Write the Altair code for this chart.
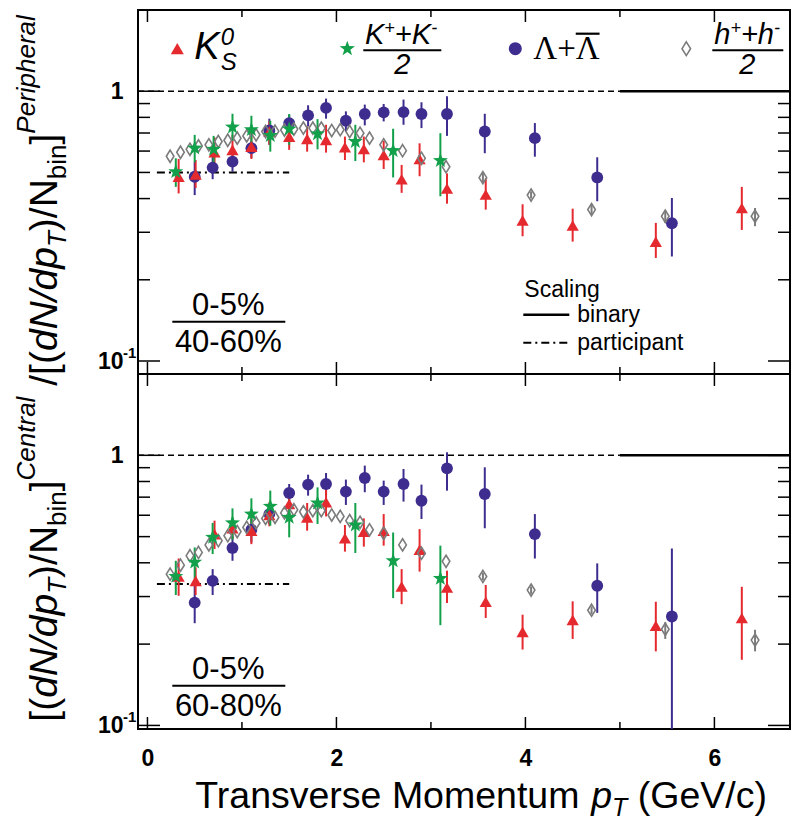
import altair as alt
import pandas as pd

# ---------------- data ----------------
# Upper panel: 0-5% / 40-60%
top_k0s_x = [0.33, 0.51, 0.71, 0.90, 1.10, 1.29, 1.50, 1.69, 1.89, 2.09, 2.29, 2.50, 2.69, 2.88, 3.17, 3.58, 3.97, 4.50, 5.38, 6.29]
top_k0s_y = [0.482, 0.491, 0.594, 0.606, 0.623, 0.709, 0.679, 0.666, 0.660, 0.620, 0.611, 0.580, 0.472, 0.561, 0.436, 0.414, 0.332, 0.318, 0.277, 0.369]
top_k0s_lo = [0.418, 0.438, 0.533, 0.548, 0.561, 0.633, 0.606, 0.597, 0.592, 0.556, 0.545, 0.515, 0.420, 0.484, 0.383, 0.364, 0.290, 0.277, 0.241, 0.306]
top_k0s_hi = [0.561, 0.556, 0.674, 0.689, 0.713, 0.773, 0.751, 0.740, 0.751, 0.679, 0.679, 0.655, 0.533, 0.641, 0.496, 0.475, 0.381, 0.367, 0.325, 0.442]

top_kch_x = [0.30, 0.50, 0.70, 0.90, 1.10, 1.30, 1.50, 1.80, 2.20, 2.60, 3.10]
top_kch_y = [0.503, 0.615, 0.609, 0.736, 0.720, 0.685, 0.724, 0.695, 0.651, 0.602, 0.553]
top_kch_lo = [0.442, 0.545, 0.540, 0.655, 0.606, 0.597, 0.633, 0.609, 0.551, 0.479, 0.408]
top_kch_hi = [0.564, 0.689, 0.683, 0.825, 0.811, 0.777, 0.823, 0.788, 0.751, 0.726, 0.699]

top_lam_x = [0.50, 0.69, 0.90, 1.10, 1.29, 1.50, 1.70, 1.89, 2.10, 2.30, 2.50, 2.71, 2.90, 3.17, 3.57, 4.10, 4.76, 5.55]
top_lam_y = [0.482, 0.521, 0.548, 0.615, 0.715, 0.762, 0.814, 0.867, 0.777, 0.823, 0.835, 0.837, 0.823, 0.823, 0.709, 0.670, 0.479, 0.324]
top_lam_lo = [0.412, 0.472, 0.503, 0.567, 0.633, 0.709, 0.740, 0.791, 0.709, 0.747, 0.773, 0.751, 0.730, 0.683, 0.589, 0.572, 0.391, 0.244]
top_lam_hi = [0.548, 0.572, 0.589, 0.651, 0.791, 0.818, 0.887, 0.939, 0.842, 0.892, 0.897, 0.931, 0.910, 0.958, 0.825, 0.762, 0.569, 0.402]

top_h_x = [0.24, 0.35, 0.45, 0.54, 0.65, 0.75, 0.85, 0.95, 1.05, 1.15, 1.25, 1.35, 1.45, 1.55, 1.65, 1.75, 1.84, 1.95, 2.04, 2.14, 2.25, 2.35, 2.50, 2.70, 2.90, 3.16, 3.55, 4.06, 4.70, 5.48, 6.43]
top_h_y = [0.574, 0.594, 0.609, 0.627, 0.633, 0.651, 0.658, 0.670, 0.683, 0.689, 0.709, 0.711, 0.718, 0.724, 0.730, 0.730, 0.730, 0.715, 0.720, 0.709, 0.699, 0.670, 0.633, 0.602, 0.564, 0.525, 0.478, 0.412, 0.364, 0.344, 0.344]
top_herr_x = [3.55, 4.06, 4.70, 5.48, 6.43]
top_herr_lo = [0.460, 0.400, 0.350, 0.325, 0.316]
top_herr_hi = [0.500, 0.425, 0.380, 0.362, 0.369]

# Lower panel: 0-5% / 60-80%
bot_k0s_x = top_k0s_x
bot_k0s_y = [0.356, 0.343, 0.511, 0.537, 0.526, 0.601, 0.660, 0.589, 0.670, 0.493, 0.522, 0.526, 0.327, 0.447, 0.324, 0.287, 0.222, 0.246, 0.234, 0.250]
bot_k0s_lo = [0.302, 0.304, 0.450, 0.490, 0.469, 0.546, 0.598, 0.526, 0.594, 0.440, 0.459, 0.463, 0.281, 0.371, 0.284, 0.250, 0.191, 0.209, 0.188, 0.175]
bot_k0s_hi = [0.415, 0.385, 0.573, 0.589, 0.589, 0.670, 0.746, 0.666, 0.755, 0.552, 0.584, 0.606, 0.379, 0.533, 0.374, 0.331, 0.257, 0.288, 0.287, 0.326]

bot_kch_x = [0.30, 0.50, 0.69, 0.90, 1.10, 1.30, 1.50, 1.80, 2.20, 2.60, 3.10]
bot_kch_y = [0.356, 0.402, 0.497, 0.562, 0.606, 0.647, 0.589, 0.666, 0.552, 0.407, 0.350]
bot_kch_lo = [0.304, 0.348, 0.431, 0.487, 0.526, 0.549, 0.497, 0.557, 0.435, 0.296, 0.235]
bot_kch_hi = [0.407, 0.456, 0.562, 0.636, 0.693, 0.740, 0.685, 0.761, 0.666, 0.518, 0.463]

bot_lam_x = top_lam_x
bot_lam_y = [0.285, 0.343, 0.454, 0.530, 0.606, 0.725, 0.779, 0.783, 0.734, 0.824, 0.734, 0.783, 0.679, 0.895, 0.719, 0.511, 0.329, 0.253]
bot_lam_lo = [0.239, 0.304, 0.407, 0.476, 0.557, 0.651, 0.709, 0.709, 0.655, 0.730, 0.655, 0.674, 0.581, 0.740, 0.537, 0.415, 0.261, 0.050]
bot_lam_hi = [0.331, 0.379, 0.504, 0.581, 0.660, 0.783, 0.848, 0.860, 0.813, 0.916, 0.806, 0.890, 0.779, 1.026, 0.903, 0.606, 0.398, 0.452]

bot_h_x = top_h_x
bot_h_y = [0.363, 0.392, 0.425, 0.437, 0.466, 0.483, 0.504, 0.522, 0.541, 0.562, 0.584, 0.589, 0.612, 0.629, 0.618, 0.624, 0.624, 0.601, 0.594, 0.573, 0.565, 0.530, 0.514, 0.466, 0.434, 0.405, 0.356, 0.317, 0.267, 0.227, 0.207]
bot_herr_x = [3.55, 4.06, 4.70, 5.48, 6.43]
bot_herr_lo = [0.345, 0.307, 0.258, 0.209, 0.188]
bot_herr_hi = [0.368, 0.327, 0.276, 0.241, 0.226]

# scaling reference lines
binary_level = 1.0
binary_dashed_range = [-0.1, 5.0]
binary_solid_range = [5.0, 6.8]
participant_range = [0.1, 1.5]
top_participant = 0.50
bot_participant = 0.334

x_major_ticks = [0, 2, 4, 6]
x_minor_ticks = [1, 3, 5]
y_major_ticks = [0.1, 1.0]
y_minor_ticks = [0.2, 0.3, 0.4, 0.5, 0.6, 0.7, 0.8, 0.9]

# ---------------- style ----------------
X_DOMAIN = [-0.1, 6.8]
TOP_YDOM = [0.0895, 2.0]
BOT_YDOM = [0.097, 2.0]
W = 652
H_TOP = 364
H_BOT = 355
RED = "#e52a2f"
GREEN = "#13a04a"
PURPLE = "#3e2d8f"
GRAY = "#7b7b7b"
FONT = "Liberation Sans"
SERIF = "Liberation Serif"
STAR = "M0,-1L0.235,-0.324L0.951,-0.309L0.38,0.124L0.588,0.809L0,0.4L-0.588,0.809L-0.38,0.124L-0.951,-0.309L-0.235,-0.324Z"
DIAMOND = "M0,-1L0.62,0L0,1L-0.62,0Z"

AFM = {' ': 278, '(': 333, ')': 333, '[': 278, ']': 278, '/': 278, '+': 584, '-': 333, '%': 889,
       'a': 556, 'b': 556, 'c': 500, 'd': 556, 'e': 556, 'g': 556, 'h': 556, 'i': 222, 'l': 222,
       'm': 833, 'n': 556, 'o': 556, 'p': 556, 'r': 333, 's': 500, 't': 278, 'u': 556, 'v': 500,
       'C': 722, 'G': 778, 'K': 667, 'M': 833, 'N': 722, 'P': 667, 'S': 667, 'T': 611, 'V': 667}


def tw(s, size):
    return sum(AFM.get(c, 556) for c in s) * size / 1000.0


one = pd.DataFrame({"a": [0]})


def txt(text, x, y, size, style="normal", weight="normal", angle=0, align="left", font=FONT, baseline="alphabetic"):
    return alt.Chart(one).mark_text(
        text=text, font=font, fontSize=size, fontStyle=style, fontWeight=weight,
        angle=angle, align=align, baseline=baseline, color="black"
    ).encode(x=alt.value(x), y=alt.value(y))


def hrule(x1, x2, y, width=2, dash=None):
    kw = dict(color="black", strokeWidth=width)
    if dash:
        kw["strokeDash"] = dash
    return alt.Chart(one).mark_rule(**kw).encode(x=alt.value(x1), x2=alt.value(x2), y=alt.value(y))


def sym(x, y, shape, color, size, filled=True):
    kw = dict(shape=shape, size=size, opacity=1)
    if filled:
        kw.update(filled=True, fill=color, strokeWidth=0)
    else:
        kw.update(filled=False, stroke=color, strokeWidth=1.6)
    return alt.Chart(one).mark_point(**kw).encode(x=alt.value(x), y=alt.value(y))


def panel(d, ydom, height, part_level, frac_bottom, is_top):
    xs = alt.Scale(domain=X_DOMAIN, nice=False, zero=False)
    ys = alt.Scale(type="log", domain=ydom, nice=False)
    if is_top:
        xaxis = None
    else:
        xaxis = alt.Axis(values=x_major_ticks, format="d", labelFont=FONT, labelFontWeight="bold",
                         labelFontSize=23, labelPadding=18, ticks=False, tickSize=0, domain=False,
                         grid=False, title=None, labelColor="black")
    yaxis = alt.Axis(values=y_major_ticks, labelExpr="datum.value > 0.5 ? '1' : '10'", labelFont=FONT,
                     labelFontWeight="bold", labelFontSize=23, labelPadding=15, ticks=False, tickSize=0,
                     domain=False, grid=False, title=None, labelColor="black", labelBaseline="middle")

    def X(f):
        return alt.X(f, type="quantitative", scale=xs, axis=xaxis)

    def Y(f):
        return alt.Y(f, type="quantitative", scale=ys, axis=yaxis)

    layers = []
    # scaling lines
    ref = pd.DataFrame({"x": [binary_dashed_range[0]], "x2": [binary_dashed_range[1]], "y": [binary_level]})
    layers.append(alt.Chart(ref).mark_rule(color="black", strokeWidth=1.5, strokeDash=[6, 4]).encode(
        x=X("x"), x2="x2", y=Y("y")))
    ref2 = pd.DataFrame({"x": [binary_solid_range[0]], "x2": [binary_solid_range[1]], "y": [binary_level]})
    layers.append(alt.Chart(ref2).mark_rule(color="black", strokeWidth=2.5).encode(
        x=X("x"), x2="x2", y=Y("y")))
    ref3 = pd.DataFrame({"x": [participant_range[0]], "x2": [participant_range[1]], "y": [part_level]})
    layers.append(alt.Chart(ref3).mark_rule(color="black", strokeWidth=2, strokeDash=[8, 4, 2, 4]).encode(
        x=X("x"), x2="x2", y=Y("y")))

    # error bars
    for key, color in [("lam", PURPLE), ("k0s", RED), ("kch", GREEN)]:
        df = pd.DataFrame({"x": d[key + "_x"], "lo": d[key + "_lo"], "hi": d[key + "_hi"]})
        layers.append(alt.Chart(df).mark_rule(color=color, strokeWidth=2, clip=True).encode(
            x=X("x"), y=Y("lo"), y2="hi"))
    dfh = pd.DataFrame({"x": d["herr_x"], "lo": d["herr_lo"], "hi": d["herr_hi"]})
    layers.append(alt.Chart(dfh).mark_rule(color=GRAY, strokeWidth=2, clip=True).encode(
        x=X("x"), y=Y("lo"), y2="hi"))

    # markers
    df = pd.DataFrame({"x": d["lam_x"], "y": d["lam_y"]})
    layers.append(alt.Chart(df).mark_point(shape="circle", filled=True, fill=PURPLE, strokeWidth=0,
                                           size=140, opacity=1).encode(x=X("x"), y=Y("y")))
    df = pd.DataFrame({"x": d["k0s_x"], "y": d["k0s_y"]})
    layers.append(alt.Chart(df).mark_point(shape="triangle-up", filled=True, fill=RED, strokeWidth=0,
                                           size=150, opacity=1).encode(x=X("x"), y=Y("y")))
    df = pd.DataFrame({"x": d["h_x"], "y": d["h_y"]})
    layers.append(alt.Chart(df).mark_point(shape=DIAMOND, filled=False, stroke=GRAY, strokeWidth=1.6,
                                           size=150, opacity=1).encode(x=X("x"), y=Y("y")))
    df = pd.DataFrame({"x": d["kch_x"], "y": d["kch_y"]})
    layers.append(alt.Chart(df).mark_point(shape=STAR, filled=True, fill=GREEN, strokeWidth=0,
                                           size=250, opacity=1).encode(x=X("x"), y=Y("y")))

    # inward ticks
    tmaj = pd.DataFrame({"x": x_major_ticks})
    tmin = pd.DataFrame({"x": x_minor_ticks})
    for tdf, ln in [(tmaj, 12), (tmin, 7)]:
        layers.append(alt.Chart(tdf).mark_rule(color="black", strokeWidth=1.5).encode(
            x=X("x"), y=alt.value(height), y2=alt.value(height - ln)))
        layers.append(alt.Chart(tdf).mark_rule(color="black", strokeWidth=1.5).encode(
            x=X("x"), y=alt.value(0), y2=alt.value(ln)))
    ymaj = pd.DataFrame({"y": y_major_ticks})
    ymin = pd.DataFrame({"y": y_minor_ticks})
    for tdf, ln in [(ymaj, 22), (ymin, 12)]:
        layers.append(alt.Chart(tdf).mark_rule(color="black", strokeWidth=1.5).encode(
            y=Y("y"), x=alt.value(0), x2=alt.value(ln)))
        layers.append(alt.Chart(tdf).mark_rule(color="black", strokeWidth=1.5).encode(
            y=Y("y"), x=alt.value(W), x2=alt.value(W - ln)))

    # superscript of 10^-1 label
    sup = pd.DataFrame({"y": [0.1]})
    layers.append(alt.Chart(sup).mark_text(text="-1", font=FONT, fontSize=15, fontWeight="bold",
                                           align="left", baseline="middle", dy=-8, color="black").encode(
        y=Y("y"), x=alt.value(-15)))

    # centrality fraction
    layers.append(txt("0-5%", 90.3, 304.7, 31, align="center"))
    layers.append(hrule(34.3, 147.3, 311.7, width=2))
    layers.append(txt(frac_bottom, 90.3, 341.7, 31, align="center"))

    if is_top:
        # Scaling legend
        layers.append(txt("Scaling", 386.3, 286.7, 23))
        layers.append(hrule(385.3, 431.3, 304.7, width=2.5))
        layers.append(txt("binary", 439.3, 311.7, 23))
        layers.append(hrule(385.3, 431.3, 332.7, width=2, dash=[8, 4, 2, 4]))
        layers.append(txt("participant", 439.3, 339.7, 23))

        # particle legend
        ly = 38.7
        layers.append(sym(39.3, ly, "triangle-up", RED, 170))
        layers.append(txt("K", 56.3, 48.7, 38, style="italic"))
        kx = 56.3 + tw("K", 38) + 1
        layers.append(txt("0", kx, 34.7, 24, style="italic"))
        layers.append(txt("S", kx, 59.7, 24, style="italic"))

        layers.append(sym(209.3, ly, STAR, GREEN, 260))
        x0 = 227.0
        for s, sz, yy in [("K", 29, 33.7), ("+", 18, 23.7), ("+", 29, 33.7), ("K", 29, 33.7), ("-", 18, 23.7)]:
            layers.append(txt(s, x0, yy, sz, style="italic"))
            x0 += tw(s, sz)
        layers.append(hrule(225.3, 303.3, 40.2, width=2))
        layers.append(txt("2", 264.3, 64.2, 29, style="italic", align="center"))

        layers.append(sym(377.3, ly, "circle", PURPLE, 170))
        layers.append(txt("Λ+Λ", 395.3, 48.7, 33, font=SERIF))
        lam_w = 0.722 * 33
        plus_w = 0.564 * 33
        layers.append(hrule(395.3 + lam_w + plus_w, 395.3 + 2 * lam_w + plus_w, 23.7, width=2.2))

        layers.append(sym(548.3, ly, DIAMOND, GRAY, 190, filled=False))
        x0 = 576.3
        for s, sz, yy in [("h", 29, 33.7), ("+", 18, 23.7), ("+", 29, 33.7), ("h", 29, 33.7), ("-", 18, 23.7)]:
            layers.append(txt(s, x0, yy, sz, style="italic"))
            x0 += tw(s, sz)
        layers.append(hrule(574.3, 645.3, 40.2, width=2))
        layers.append(txt("2", 609.3, 64.2, 29, style="italic", align="center"))

        # rotated y-axis title spanning both panels (pieces run bottom to top)
        F, f = 39, 26
        base, supx, subx = -80.7, -102.7, -71.7
        pieces = [("[(", F, "normal", base, 0), ("dN/dp", F, "italic", base, 0), ("T", f, "italic", subx, 0),
                  (")/N", F, "normal", base, 0), ("bin", f, "normal", subx, 0), ("]", F, "normal", base, 0),
                  ("Central", f, "italic", supx, 0), ("/[(", F, "normal", base, tw(" ", F)),
                  ("dN/dp", F, "italic", base, 0), ("T", f, "italic", subx, 0), (")/N", F, "normal", base, 0),
                  ("bin", f, "normal", subx, 0), ("]", F, "normal", base, 0), ("Peripheral", f, "italic", supx, 0)]
        yy = 711.7
        for s, sz, st, xx, gap in pieces:
            yy -= gap
            layers.append(txt(s, xx, yy, sz, style=st, angle=270))
            yy -= tw(s, sz)
    else:
        # x-axis title
        x0 = 57.3
        for s, sz, st, yy, gap in [("Transverse Momentum", 37.5, "normal", 433.5, 0),
                                   ("p", 37.5, "italic", 433.5, tw(" ", 37.5)),
                                   ("T", 25, "italic", 441.5, 0),
                                   ("(GeV/c)", 37.5, "normal", 433.5, tw(" ", 37.5))]:
            x0 += gap
            layers.append(txt(s, x0, yy, sz, style=st))
            x0 += tw(s, sz)

    return alt.layer(*layers).properties(width=W, height=height)


top_d = dict(k0s_x=top_k0s_x, k0s_y=top_k0s_y, k0s_lo=top_k0s_lo, k0s_hi=top_k0s_hi,
             kch_x=top_kch_x, kch_y=top_kch_y, kch_lo=top_kch_lo, kch_hi=top_kch_hi,
             lam_x=top_lam_x, lam_y=top_lam_y, lam_lo=top_lam_lo, lam_hi=top_lam_hi,
             h_x=top_h_x, h_y=top_h_y, herr_x=top_herr_x, herr_lo=top_herr_lo, herr_hi=top_herr_hi)
bot_d = dict(k0s_x=bot_k0s_x, k0s_y=bot_k0s_y, k0s_lo=bot_k0s_lo, k0s_hi=bot_k0s_hi,
             kch_x=bot_kch_x, kch_y=bot_kch_y, kch_lo=bot_kch_lo, kch_hi=bot_kch_hi,
             lam_x=bot_lam_x, lam_y=bot_lam_y, lam_lo=bot_lam_lo, lam_hi=bot_lam_hi,
             h_x=bot_h_x, h_y=bot_h_y, herr_x=bot_herr_x, herr_lo=bot_herr_lo, herr_hi=bot_herr_hi)

top = panel(top_d, TOP_YDOM, H_TOP, top_participant, "40-60%", True)
bottom = panel(bot_d, BOT_YDOM, H_BOT, bot_participant, "60-80%", False)

chart = alt.vconcat(top, bottom, spacing=0, bounds="flush").properties(
    padding={"left": 5, "top": 0, "right": 0, "bottom": 0}, background="white"
).configure_view(stroke="black", strokeWidth=2)

chart.save("out.html", embed_options={"renderer": "svg", "actions": False})
